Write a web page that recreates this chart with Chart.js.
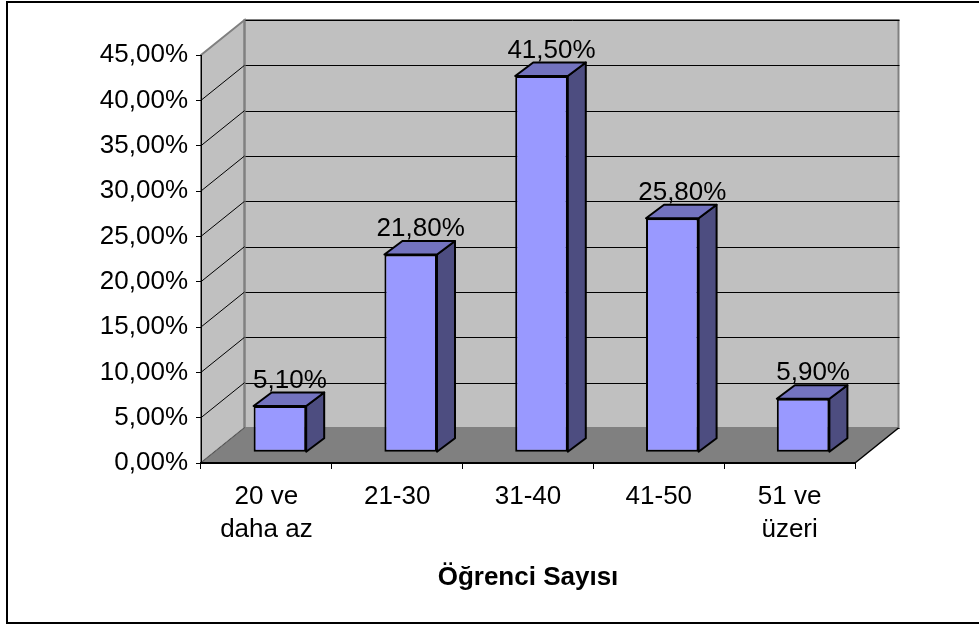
<!DOCTYPE html>
<html>
<head>
<meta charset="utf-8">
<script src="https://cdn.jsdelivr.net/npm/chart.js@4.4.1/dist/chart.umd.min.js"></script>
<style>
  html, body { margin: 0; padding: 0; background: #fff; }
  #wrap { width: 979px; height: 626px; }
</style>
</head>
<body>
<div id="wrap"><canvas id="chart" width="979" height="626"></canvas></div>
<script>
// Student count groups and their share of schools
const categories = [['20 ve', 'daha az'], '21-30', '31-40', '41-50', ['51 ve', 'üzeri']];
const shares = [5.1, 21.8, 41.5, 25.8, 5.9];
const axisMin = 0;
const axisMax = 45;
const axisStep = 5;
const axisTitle = 'Öğrenci Sayısı';

const FONT = '"Liberation Sans", Arial, sans-serif';
const FONT_SIZE = 26;
const fmtPct = v => Number(v).toFixed(2).replace('.', ',') + '%';

// 3D box: depth vector from the front plane to the back wall
const DEPTH = { x: 43.5, y: -35 };
// bars sit part-way into the box and have their own depth
const BAR_FRONT = { x: 13.5, y: -10.8 };
const BAR_DEPTH = { x: 18, y: -13.5 };

const px = v => Math.round(v) + 0.5;

const roomPlugin = {
  id: 'room',
  beforeDraw(chart) {
    const { ctx, chartArea: a, scales: { y } } = chart;
    const dx = DEPTH.x, dy = DEPTH.y;
    ctx.save();
    ctx.fillStyle = '#fff';
    ctx.fillRect(0, 0, chart.width, chart.height);

    // outer frame
    ctx.strokeStyle = '#000';
    ctx.lineWidth = 2;
    ctx.strokeRect(7, 2, 1000, 621);

    // back wall
    ctx.fillStyle = '#c0c0c0';
    ctx.fillRect(a.left + dx, a.top + dy, a.right - a.left, a.bottom - a.top);
    // side wall
    ctx.beginPath();
    ctx.moveTo(a.left, a.top);
    ctx.lineTo(a.left + dx, a.top + dy);
    ctx.lineTo(a.left + dx, a.bottom + dy);
    ctx.lineTo(a.left, a.bottom);
    ctx.closePath();
    ctx.fill();
    ctx.strokeStyle = '#808080';
    ctx.lineWidth = 2;
    ctx.stroke();
    ctx.strokeRect(a.left + dx, a.top + dy, a.right - a.left, a.bottom - a.top);

    // gridlines on the back wall and the side wall
    ctx.strokeStyle = '#000';
    ctx.lineWidth = 1;
    y.ticks.forEach(t => {
      const py = y.getPixelForValue(t.value);
      ctx.beginPath();
      ctx.moveTo(px(a.left + dx), px(py + dy));
      ctx.lineTo(px(a.right + dx), px(py + dy));
      if (t.value < axisMax) {
        ctx.moveTo(a.left, py);
        ctx.lineTo(a.left + dx, py + dy);
      }
      ctx.stroke();
    });

    // floor
    ctx.fillStyle = '#808080';
    ctx.beginPath();
    ctx.moveTo(a.left, a.bottom);
    ctx.lineTo(a.right, a.bottom);
    ctx.lineTo(a.right + dx, a.bottom + dy);
    ctx.lineTo(a.left + dx, a.bottom + dy);
    ctx.closePath();
    ctx.fill();
    ctx.strokeStyle = '#000';
    ctx.lineWidth = 1.5;
    ctx.beginPath();
    ctx.moveTo(a.right, a.bottom);
    ctx.lineTo(a.right + dx, a.bottom + dy);
    ctx.stroke();
    ctx.strokeStyle = '#6a6a6a';
    ctx.lineWidth = 1;
    ctx.beginPath();
    ctx.moveTo(a.left, a.bottom);
    ctx.lineTo(a.left + dx, a.bottom + dy);
    ctx.stroke();
    ctx.restore();
  },
  beforeDatasetsDraw(chart) {
    // front faces of the bars are drawn inside the box
    chart.ctx.save();
    chart.ctx.translate(BAR_FRONT.x, BAR_FRONT.y);
  },
  afterDatasetsDraw(chart) {
    const ctx = chart.ctx;
    ctx.restore();
    const meta = chart.getDatasetMeta(0);
    const values = chart.data.datasets[0].data;
    ctx.save();
    ctx.lineJoin = 'round';
    meta.data.forEach((bar, i) => {
      const L = bar.x - bar.width / 2 + BAR_FRONT.x;
      const R = bar.x + bar.width / 2 + BAR_FRONT.x;
      const T = bar.y + BAR_FRONT.y;
      const B = bar.base + BAR_FRONT.y;
      const bx = BAR_DEPTH.x, by = BAR_DEPTH.y;

      // side face
      ctx.fillStyle = '#4d4d80';
      ctx.beginPath();
      ctx.moveTo(R, T);
      ctx.lineTo(R + bx, T + by);
      ctx.lineTo(R + bx, B + by);
      ctx.lineTo(R, B);
      ctx.closePath();
      ctx.fill();
      ctx.strokeStyle = '#000';
      ctx.lineWidth = 2;
      ctx.stroke();

      // top face
      ctx.fillStyle = '#7373bf';
      ctx.beginPath();
      ctx.moveTo(L, T);
      ctx.lineTo(L + bx, T + by);
      ctx.lineTo(R + bx, T + by);
      ctx.lineTo(R, T);
      ctx.closePath();
      ctx.fill();
      ctx.stroke();

      // value label
      ctx.fillStyle = '#000';
      ctx.font = FONT_SIZE + 'px ' + FONT;
      ctx.textAlign = 'center';
      ctx.textBaseline = 'middle';
      ctx.fillText(fmtPct(values[i]), (L + R) / 2 + 10, T + by - 12);
    });
    ctx.restore();
  }
};

new Chart(document.getElementById('chart'), {
  type: 'bar',
  data: {
    labels: categories,
    datasets: [{
      data: shares,
      backgroundColor: '#9999ff',
      borderColor: '#000',
      borderWidth: 2,
      borderSkipped: false,
      categoryPercentage: 1,
      barPercentage: 0.402
    }]
  },
  options: {
    responsive: false,
    animation: false,
    layout: { padding: { top: 55, right: 124, left: 0, bottom: 0 } },
    plugins: {
      legend: { display: false },
      tooltip: { enabled: false }
    },
    scales: {
      x: {
        offset: true,
        grid: { offset: true, drawOnChartArea: false, drawTicks: true, tickLength: 6, color: '#000', lineWidth: 1 },
        border: { display: true, color: '#000', width: 2 },
        ticks: {
          color: '#000',
          font: { family: FONT, size: FONT_SIZE, lineHeight: 1.28 },
          padding: 11,
          maxRotation: 0,
          autoSkip: false
        },
        title: {
          display: true,
          text: axisTitle,
          color: '#000',
          font: { family: FONT, size: FONT_SIZE, weight: 'bold' },
          padding: { top: 0, bottom: 33 }
        },
        afterFit(scale) { scale.height = 163; }
      },
      y: {
        min: axisMin,
        max: axisMax,
        grid: { drawOnChartArea: false, drawTicks: true, tickLength: 5, color: '#000', lineWidth: 1 },
        border: { display: true, color: '#000', width: 1 },
        ticks: {
          stepSize: axisStep,
          color: '#000',
          font: { family: FONT, size: FONT_SIZE },
          padding: 8,
          callback: v => fmtPct(v)
        },
        afterFit(scale) { scale.width = 201; }
      }
    }
  },
  plugins: [roomPlugin]
});
</script>
</body>
</html>
